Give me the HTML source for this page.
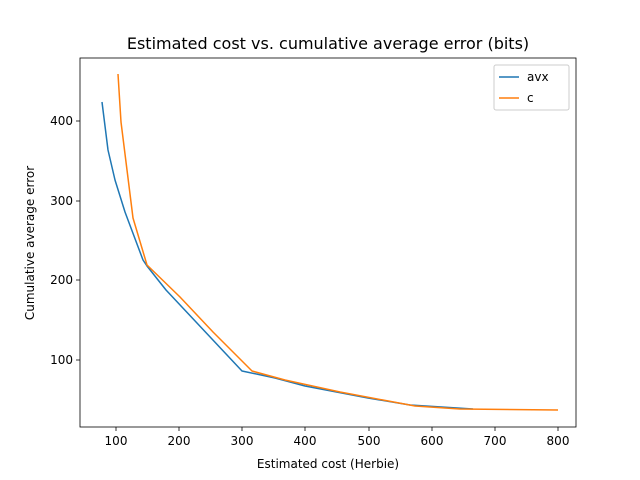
<!DOCTYPE html>
<html><head><style>body{margin:0;background:#fff}svg{display:block}text{font-family:"DejaVu Sans","Liberation Sans",sans-serif;fill:#000}</style></head><body>
<svg width="640" height="480" viewBox="0 0 640 480" xmlns="http://www.w3.org/2000/svg">
<rect width="640" height="480" fill="#fff"/>
<text x="328" y="49" font-size="16" text-anchor="middle">Estimated cost vs. cumulative average error (bits)</text>
<g fill="none" stroke-width="1.5" stroke-linejoin="round">
<polyline stroke="#1f77b4" points="102,102 108,150 115,180 125,212 143,260 147,266 166,290 242,371 275,378 305,386 368,398 410,405 473,409"/>
<polyline stroke="#ff7f0e" points="118,74 121,122 127,170 133,218 147,265 180,297 213,332 252,371 285,380 340,392 415,406 460,409 558,410"/>
</g>
<rect x="80" y="58" width="496" height="369" fill="none" stroke="#000" stroke-width="0.8"/>
<g stroke="#000" stroke-width="0.8">
<line x1="116" y1="427" x2="116" y2="431"/><line x1="179" y1="427" x2="179" y2="431"/><line x1="242" y1="427" x2="242" y2="431"/><line x1="305" y1="427" x2="305" y2="431"/><line x1="369" y1="427" x2="369" y2="431"/><line x1="432" y1="427" x2="432" y2="431"/><line x1="495" y1="427" x2="495" y2="431"/><line x1="558" y1="427" x2="558" y2="431"/>
<line x1="76" y1="360" x2="80" y2="360"/><line x1="76" y1="280" x2="80" y2="280"/><line x1="76" y1="201" x2="80" y2="201"/><line x1="76" y1="121" x2="80" y2="121"/>
</g>
<g font-size="12" text-anchor="middle">
<text x="116" y="445">100</text><text x="179" y="445">200</text><text x="242" y="445">300</text><text x="305" y="445">400</text><text x="369" y="445">500</text><text x="432" y="445">600</text><text x="495" y="445">700</text><text x="558" y="445">800</text>
<text x="328" y="468">Estimated cost (Herbie)</text>
</g>
<g font-size="12" text-anchor="end">
<text x="73" y="364">100</text><text x="73" y="284">200</text><text x="73" y="205">300</text><text x="73" y="125">400</text>
</g>
<text transform="translate(34,243) rotate(-90)" font-size="12" text-anchor="middle">Cumulative average error</text>
<rect x="494" y="65" width="75" height="45" rx="2" fill="#fff" stroke="#ccc"/>
<line x1="499" y1="77" x2="519" y2="77" stroke="#1f77b4" stroke-width="1.5"/>
<text x="527" y="81" font-size="12">avx</text>
<line x1="499" y1="98" x2="519" y2="98" stroke="#ff7f0e" stroke-width="1.5"/>
<text x="527" y="102" font-size="12">c</text>
</svg>
</body></html>
